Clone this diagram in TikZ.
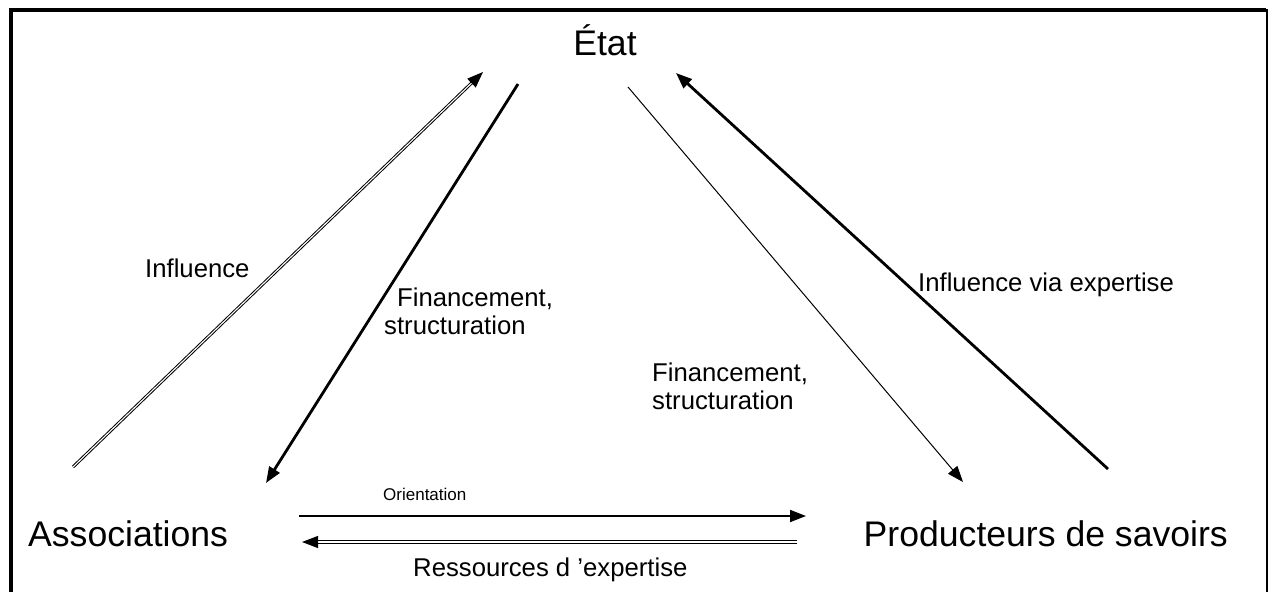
\documentclass[tikz,border=0pt]{standalone}
\usepackage{fontspec}
\setmainfont{Liberation Sans}
\usetikzlibrary{arrows.meta}
\begin{document}
\begin{tikzpicture}[x=1pt,y=-1pt,
  big/.style={inner sep=0pt,font=\fontsize{35.6}{40}\selectfont},
  lbl/.style={inner sep=0pt,font=\fontsize{25.7}{29}\selectfont,align=left},
  small/.style={inner sep=0pt,font=\fontsize{17}{20}\selectfont},
  tip/.style={-{Triangle[length=16pt,width=12pt]}},
  thickarr/.style={tip,line width=2.8pt},
  thinarr/.style={tip,line width=1pt},
  dblarr/.style={tip,line width=1pt,double=white,double distance=1.1pt},
]
\useasboundingbox (0,0) rectangle (1268,592);
% frame
\draw[line width=4pt] (11,592) -- (11,10) -- (1266,10);
\draw[line width=2pt] (1266.7,9) -- (1266.7,592);

% nodes
\node[big,anchor=base] (etat) at (605,55) {État};
\node[big,anchor=base west] (assoc) at (28,546) {Associations};
\node[big,anchor=base east] (prod) at (1228,546) {Producteurs de savoirs};

% anchor coordinates
\coordinate (a1) at (73,467);  \coordinate (a2) at (483,72);
\coordinate (b1) at (518,84);  \coordinate (b2) at (266,483);
\coordinate (c1) at (628,87);  \coordinate (c2) at (963,482);
\coordinate (d1) at (1108,469); \coordinate (d2) at (676,73);
\coordinate (e1) at (299,516); \coordinate (e2) at (806,516);
\coordinate (f1) at (797,542); \coordinate (f2) at (302,542);

\draw[dblarr] (a1) -- (a2);
\draw[thickarr] (b1) -- (b2);
\draw[thinarr] (c1) -- (c2);
\draw[thickarr] (d1) -- (d2);
\draw[line width=1.8pt,tip] (e1) -- (e2);
\draw[dblarr] (f1) -- (f2);

% labels
\node[lbl,anchor=base west] (l1) at (145,277) {Influence};
\node[lbl,anchor=base west] (l2) at (384,334) {\hspace*{13pt}Financement,\\[-1pt]structuration};
\node[lbl,anchor=base west] (l3) at (652,409) {Financement,\\[-1pt]structuration};
\node[lbl,anchor=base west] (l4) at (918,291) {Influence via expertise};
\node[small,anchor=base west] (l5) at (383,500) {Orientation};
\node[lbl,anchor=base west] (l6) at (413,576) {Ressources d 'expertise};
\end{tikzpicture}
\end{document}
